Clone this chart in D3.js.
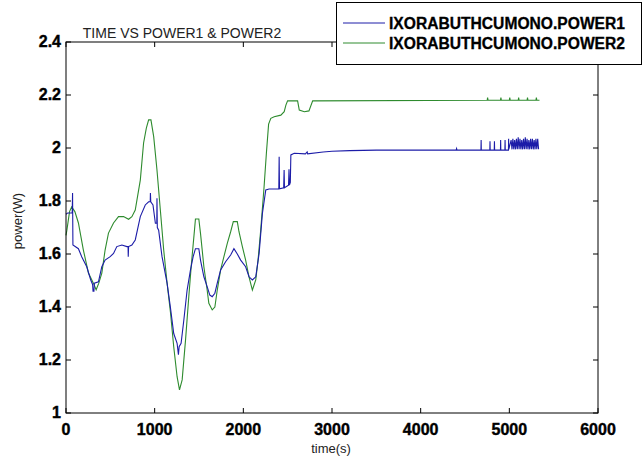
<!DOCTYPE html>
<html><head><meta charset="utf-8">
<script src="https://cdn.jsdelivr.net/npm/d3@7"></script>
<style>
html,body{margin:0;padding:0;background:#fff;}
svg{display:block;}
</style></head>
<body>
<svg id="chart" width="644" height="459"></svg>
<script>
const chartTitle = "TIME VS POWER1 & POWER2";
const seriesNames = ["IXORABUTHCUMONO.POWER1", "IXORABUTHCUMONO.POWER2"];
const xTicks = [0, 1000, 2000, 3000, 4000, 5000, 6000];
const yTicks = [1, 1.2, 1.4, 1.6, 1.8, 2, 2.2, 2.4];

const time1 = [0,20,70,74,78,140,177,234,279,300,305,315,320,366,404,441,498,536,573,630,687,700,702,706,743,781,838,894,932,950,952,956,981,1008,1024,1026,1030,1045,1083,1140,1177,1215,1253,1268,1276,1298,1329,1366,1404,1434,1460,1498,1517,1555,1592,1622,1649,1679,1706,1744,1800,1857,1894,1932,1970,2026,2064,2102,2140,2178,2215,2253,2290,2400,2404,2408,2455,2460,2464,2510,2515,2520,2530,2536,2574,2700,2720,2725,2900,3000,3200,3500,4400,4405,4410,4600,4680,4682,4684,4780,4782,4784,4830,4832,4834,4900,4902,4904,4950,4952,4954,4990,4992,4994,5020,5030,5040,5050,5060,5070,5080,5090,5100,5110,5120,5130,5140,5150,5160,5170,5180,5190,5200,5210,5220,5230,5240,5250,5260,5270,5280,5290,5300,5310,5320,5330,5340];
const power1 = [1.75,1.755,1.755,1.83,1.634,1.62,1.59,1.552,1.502,1.485,1.46,1.46,1.49,1.495,1.552,1.577,1.59,1.602,1.628,1.634,1.628,1.628,1.59,1.628,1.634,1.653,1.741,1.785,1.797,1.797,1.83,1.797,1.785,1.716,1.716,1.81,1.70,1.69,1.59,1.49,1.40,1.30,1.263,1.22,1.25,1.263,1.351,1.464,1.54,1.59,1.62,1.62,1.577,1.514,1.477,1.445,1.439,1.452,1.49,1.54,1.571,1.596,1.62,1.60,1.577,1.552,1.514,1.502,1.514,1.602,1.753,1.842,1.845,1.846,1.967,1.846,1.85,1.917,1.85,1.86,1.92,1.86,1.87,1.974,1.98,1.978,1.985,1.978,1.985,1.988,1.99,1.992,1.992,1.998,1.992,1.992,1.992,2.03,1.992,1.992,2.025,1.992,1.992,2.025,1.992,1.992,2.03,1.992,1.992,2.03,1.992,1.992,2.035,1.995,2.03,1.995,2.035,1.995,2.03,1.995,2.035,1.995,2.04,1.995,2.035,1.995,2.03,1.995,2.035,1.995,2.04,1.995,2.035,1.995,2.03,1.995,2.035,1.995,2.035,1.995,2.03,1.995,2.035,1.995,2.035,1.995];

const time2 = [0,10,40,64,100,140,196,253,309,340,370,404,441,479,536,592,649,706,743,781,838,875,906,932,958,989,1026,1064,1102,1140,1178,1215,1253,1280,1310,1348,1385,1415,1449,1460,1498,1517,1555,1592,1611,1649,1679,1706,1744,1781,1819,1857,1887,1932,1951,1989,2026,2064,2102,2140,2166,2196,2234,2260,2285,2310,2348,2423,2461,2480,2499,2612,2631,2688,2740,2782,4750,4755,4760,4900,4905,4910,5000,5005,5010,5100,5105,5110,5200,5205,5210,5300,5305,5310,5340];
const power2 = [1.67,1.69,1.76,1.778,1.76,1.717,1.615,1.528,1.49,1.465,1.49,1.528,1.615,1.679,1.717,1.741,1.741,1.731,1.741,1.766,1.879,2.019,2.075,2.106,2.106,2.043,1.917,1.766,1.615,1.49,1.38,1.25,1.137,1.087,1.125,1.275,1.439,1.565,1.69,1.732,1.732,1.678,1.552,1.464,1.414,1.389,1.40,1.464,1.54,1.59,1.64,1.684,1.722,1.722,1.684,1.628,1.577,1.514,1.464,1.502,1.577,1.69,1.854,1.98,2.09,2.112,2.118,2.124,2.137,2.162,2.178,2.178,2.143,2.137,2.14,2.178,2.18,2.19,2.18,2.18,2.19,2.18,2.18,2.19,2.18,2.18,2.19,2.18,2.18,2.19,2.18,2.18,2.19,2.18,2.18];

const colors = ["#1c1ca8", "#2e8b2e"];

const svg = d3.select("#chart");
const L = 66, R = 598, T = 42, B = 413;
const x = d3.scaleLinear().domain([0, 6000]).range([L, R]);
const y = d3.scaleLinear().domain([1, 2.4]).range([B, T]);

svg.append("rect").attr("x", L).attr("y", T).attr("width", R - L).attr("height", B - T).attr("fill", "#fff");

const line = d3.line().x(d => x(d[0])).y(d => y(d[1]));
const d1 = time1.map((t, i) => [t, power1[i]]);
const d2 = time2.map((t, i) => [t, power2[i]]);
svg.append("path").datum(d2).attr("d", line).attr("fill", "none").attr("stroke", colors[1]).attr("stroke-width", 1.1);
svg.append("path").datum(d1).attr("d", line).attr("fill", "none").attr("stroke", colors[0]).attr("stroke-width", 1.1);

const tickLen = 5;
const ax = svg.append("g").attr("stroke", "#000").attr("stroke-width", 1);
ax.append("rect").attr("x", L).attr("y", T).attr("width", R - L).attr("height", B - T).attr("fill", "none");
xTicks.forEach(v => {
  ax.append("line").attr("x1", x(v)).attr("x2", x(v)).attr("y1", B).attr("y2", B - tickLen);
  ax.append("line").attr("x1", x(v)).attr("x2", x(v)).attr("y1", T).attr("y2", T + tickLen);
});
yTicks.forEach(v => {
  ax.append("line").attr("x1", L).attr("x2", L + tickLen).attr("y1", y(v)).attr("y2", y(v));
  ax.append("line").attr("x1", R).attr("x2", R - tickLen).attr("y1", y(v)).attr("y2", y(v));
});

const tickFont = "'Liberation Sans', Arial, sans-serif";
svg.append("g").selectAll("text").data(xTicks).join("text")
  .attr("x", d => x(d)).attr("y", 435)
  .attr("text-anchor", "middle").attr("font-family", tickFont).attr("font-weight", "bold").attr("font-size", 16)
  .attr("stroke", "#000").attr("stroke-width", 0.4)
  .text(d => d);
svg.append("g").selectAll("text").data(yTicks).join("text")
  .attr("x", L - 5).attr("y", d => y(d) + 5)
  .attr("text-anchor", "end").attr("font-family", tickFont).attr("font-weight", "bold").attr("font-size", 16)
  .attr("stroke", "#000").attr("stroke-width", 0.4)
  .text(d => d3.format("")(d));

svg.append("text").attr("x", 331).attr("y", 453).attr("text-anchor", "middle")
  .attr("font-family", tickFont).attr("font-size", 13).attr("fill", "#222").text("time(s)");
svg.append("text").attr("transform", "translate(22,221) rotate(-90)").attr("text-anchor", "middle")
  .attr("font-family", tickFont).attr("font-size", 13).attr("fill", "#222").text("power(W)");

svg.append("text").attr("x", 182).attr("y", 38).attr("text-anchor", "middle")
  .attr("font-family", tickFont).attr("font-size", 14).attr("fill", "#222").text(chartTitle);

const lg = svg.append("g");
lg.append("rect").attr("x", 336.5).attr("y", 2.5).attr("width", 305).attr("height", 62)
  .attr("fill", "#fff").attr("stroke", "#000").attr("stroke-width", 1);
seriesNames.forEach((n, i) => {
  const yy = 23 + i * 20;
  lg.append("line").attr("x1", 343).attr("x2", 385).attr("y1", yy).attr("y2", yy).attr("stroke", colors[i]).attr("stroke-width", 1);
  lg.append("text").attr("x", 389).attr("y", yy + 6).attr("font-family", tickFont).attr("font-weight", "bold")
    .attr("font-size", 16).attr("stroke", "#000").attr("stroke-width", 0.3)
    .attr("textLength", 236).attr("lengthAdjust", "spacingAndGlyphs").text(n);
});
</script>
</body></html>
